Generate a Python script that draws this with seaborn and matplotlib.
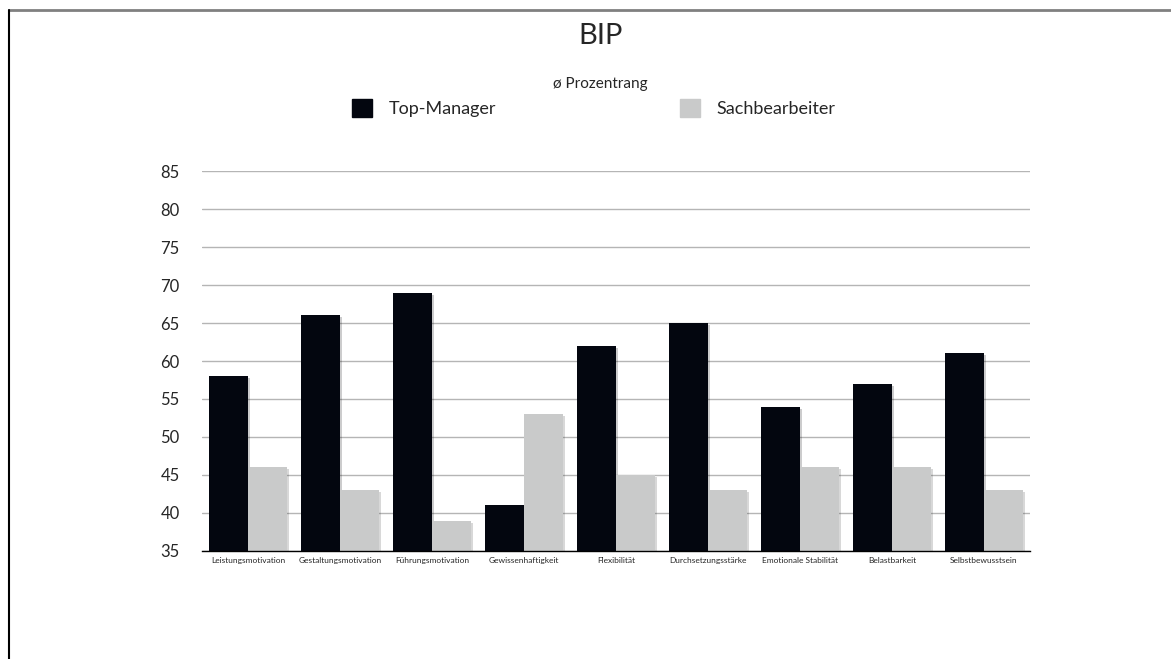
"""
BIP - mean percentile rank, top managers vs. clerks
"""

import pandas as pd
import matplotlib.pyplot as plt
import matplotlib.patheffects as pe
from matplotlib.lines import Line2D
import seaborn as sns

# Data
categories = ['Leistungsmotivation', 'Gestaltungsmotivation', 'Führungsmotivation',
              'Gewissenhaftigkeit', 'Flexibilität', 'Durchsetzungsstärke',
              'Emotionale Stabilität', 'Belastbarkeit', 'Selbstbewusstsein']
top_manager = [58, 66, 69, 41, 62, 65, 54, 57, 61]
sachbearbeiter = [46, 43, 39, 53, 45, 43, 46, 46, 43]
groups = ['Top-Manager', 'Sachbearbeiter']
y_ticks = [35, 40, 45, 50, 55, 60, 65, 70, 75, 80, 85]

df = pd.DataFrame({
    'Kategorie': categories * 2,
    'Wert': top_manager + sachbearbeiter,
    'Gruppe': [groups[0]] * len(categories) + [groups[1]] * len(categories),
})

sns.set_style('white')
plt.rcParams['font.family'] = ['Lato', 'DejaVu Sans']

fig = plt.figure(figsize=(11.71, 6.59), dpi=100)
ax = fig.add_axes([0.1725, 0.1639, 0.7071, 0.5766])

palette = {'Top-Manager': '#03060f', 'Sachbearbeiter': '#c9caca'}
sns.barplot(data=df, x='Kategorie', y='Wert', hue='Gruppe', palette=palette,
            width=0.85, gap=0, saturation=1, ax=ax, legend=False, zorder=3,
            linewidth=0, edgecolor='none')

# soft drop shadow like the original
for bar in ax.patches:
    bar.set_path_effects([pe.SimplePatchShadow(offset=(1.5, -1.5), alpha=0.2),
                          pe.Normal()])

ax.set_ylim(35, 85)
ax.set_xlim(-0.5, len(categories) - 0.5)
ax.set_yticks(y_ticks)
ax.yaxis.grid(True, color='#b5b5b5', linewidth=1, zorder=0)
ax.set_axisbelow(True)
for side in ['left', 'right', 'top']:
    ax.spines[side].set_visible(False)
ax.spines['bottom'].set_color('black')
ax.spines['bottom'].set_linewidth(1)
ax.spines['bottom'].set_zorder(4)
ax.tick_params(axis='y', length=0, pad=16, labelsize=12)
ax.tick_params(axis='x', length=0, pad=4, labelsize=6)
ax.set_xlabel('')
ax.set_ylabel('')

# Title and subtitle
fig.text(0.5125, 0.945, 'BIP', ha='center', va='center', fontsize=21)
fig.text(0.5125, 0.873, 'ø Prozentrang', ha='center', va='center', fontsize=11)

# Legend
handles = [plt.Rectangle((0, 0), 1, 1, color=palette[g]) for g in groups]
fig.legend(handles, groups, loc='center', bbox_to_anchor=(0.507, 0.836), ncol=2,
           frameon=False, fontsize=13, handlelength=1.1, handleheight=1.1,
           handletextpad=0.9, columnspacing=10.2)

# Frame lines
fig.add_artist(Line2D([9 / 1171, 1], [1 - 10 / 659, 1 - 10 / 659],
                      transform=fig.transFigure, color='#808080', linewidth=2))
fig.add_artist(Line2D([9 / 1171, 9 / 1171], [0, 1 - 10 / 659],
                      transform=fig.transFigure, color='black', linewidth=1.5))

plt.savefig('out.png', dpi=100)
